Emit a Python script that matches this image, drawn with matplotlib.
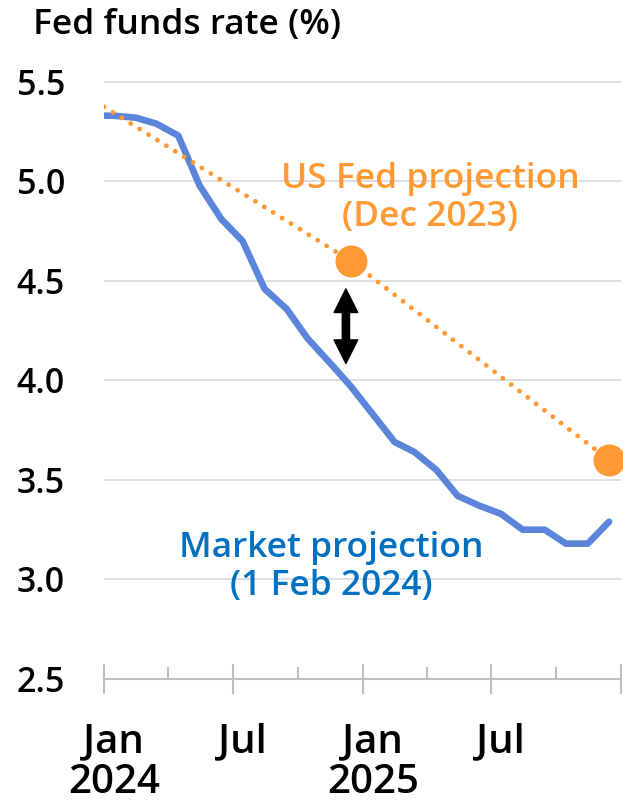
import pandas as pd
import matplotlib
matplotlib.use("Agg")
import matplotlib.pyplot as plt
import matplotlib.dates as mdates

plt.rcParams['font.family'] = ['Open Sans', 'DejaVu Sans']

# market implied path (1 Feb 2024), one point per month
market_dates = ["2024-01-01",
                "2024-01-15", "2024-02-15", "2024-03-15", "2024-04-15", "2024-05-15", "2024-06-15",
                "2024-07-15", "2024-08-15", "2024-09-15", "2024-10-15", "2024-11-15", "2024-12-15",
                "2025-01-15", "2025-02-15", "2025-03-15", "2025-04-15", "2025-05-15", "2025-06-15",
                "2025-07-15", "2025-08-15", "2025-09-15", "2025-10-15", "2025-11-15", "2025-12-15"]
market_rate = [5.33,
               5.33, 5.32, 5.29, 5.23, 4.98, 4.81,
               4.70, 4.46, 4.36, 4.21, 4.09, 3.97,
               3.83, 3.69, 3.64, 3.55, 3.42, 3.37,
               3.33, 3.25, 3.25, 3.18, 3.18, 3.29]

# Fed dot plot medians (Dec 2023 SEP)
fed_dates = ["2024-01-01", "2024-12-15", "2025-12-15"]
fed_rate = [5.375, 4.6, 3.6]

y_ticks = [2.5, 3.0, 3.5, 4.0, 4.5, 5.0, 5.5]
y_labels = ["2.5", "3.0", "3.5", "4.0", "4.5", "5.0", "5.5"]
major_months = ["2024-01-01", "2024-07-01", "2025-01-01", "2025-07-01", "2026-01-01"]
minor_months = ["2024-04-01", "2024-10-01", "2025-04-01", "2025-10-01"]
label_months = ["2024-01-15", "2024-07-15", "2025-01-15", "2025-07-15"]
x_labels = ["Jan\n2024", "Jul", "Jan\n2025", "Jul"]

blue = '#5B84DB'
orange = '#FF9933'
grey = '#BFBFBF'

market_dates = pd.to_datetime(market_dates)
fed_dates = pd.to_datetime(fed_dates)

fig = plt.figure(figsize=(6.23, 8.06), dpi=100)
ax = fig.add_axes([0.1669, 0.1576, 0.83, 0.7655])

ax.set_xlim(pd.Timestamp("2024-01-01"), pd.Timestamp("2026-01-01"))
ax.set_ylim(2.5, 5.6)

ax.set_yticks(y_ticks, labels=y_labels)
ax.yaxis.grid(True, color='#D9D9D9', lw=1.2)
ax.set_axisbelow(True)
ax.tick_params(axis='y', length=0, pad=28, labelsize=24.5)
for lab in ax.get_yticklabels():
    lab.set_fontweight('semibold')

for s in ['top', 'left', 'right']:
    ax.spines[s].set_visible(False)
ax.spines['bottom'].set_color(grey)
ax.spines['bottom'].set_linewidth(1.5)

ax.set_xticks(pd.to_datetime(major_months))
ax.set_xticks(pd.to_datetime(minor_months), minor=True)
ax.tick_params(axis='x', which='major', direction='inout', length=22, width=1.5,
               color=grey, labelbottom=False)
ax.tick_params(axis='x', which='minor', direction='in', length=8.5, width=1.5, color=grey)

secax = ax.secondary_xaxis('bottom')
secax.set_xticks(mdates.date2num(pd.to_datetime(label_months)), labels=x_labels)
secax.tick_params(length=0, pad=31, labelsize=29)
secax.spines['bottom'].set_visible(False)
for lab in secax.get_xticklabels():
    lab.set_fontweight('semibold')
    lab.set_linespacing(1.02)

ax.plot(market_dates, market_rate, color=blue, lw=4.8,
        solid_joinstyle='round', solid_capstyle='round', zorder=3)
ax.plot(fed_dates, fed_rate, color=orange, lw=3.5, linestyle=(0, (0.01, 2.15)),
        dash_capstyle='round', zorder=3)
ax.plot(fed_dates[1:], fed_rate[1:], 'o', ms=22, color=orange, clip_on=False, zorder=4)

# gap between the two projections
arrow_x = pd.Timestamp("2024-12-08")
for tip in (4.46, 4.085):
    ax.annotate('', xy=(arrow_x, tip), xytext=(arrow_x, 4.27),
                arrowprops=dict(width=5.2, headwidth=17, headlength=17,
                                color='black', shrink=0))

ax.text(0.631, 0.779, "US Fed projection\n(Dec 2023)", transform=ax.transAxes,
        ha='center', va='center', multialignment='center', color=orange,
        fontsize=25.5, fontweight='semibold', linespacing=1.15)
ax.text(0.439, 0.182, "Market projection\n(1 Feb 2024)", transform=ax.transAxes,
        ha='center', va='center', multialignment='center', color='#0070C0',
        fontsize=25.5, fontweight='semibold', linespacing=1.15)

fig.text(33 / 623, 1 - 8 / 806, "Fed funds rate (%)", ha='left', va='top',
         fontsize=25.5, fontweight='semibold')

fig.savefig("out.png", dpi=100)
